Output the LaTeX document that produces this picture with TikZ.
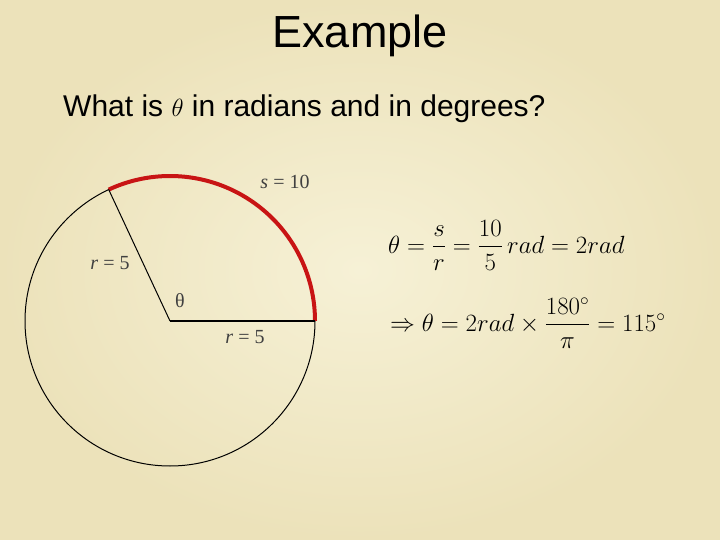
\documentclass[tikz,border=0pt]{standalone}
\usepackage{fontspec}
\setmainfont{Liberation Sans}
\newfontfamily\serif{Liberation Serif}
\usepackage{amsmath,amssymb}
\usetikzlibrary{calc}

\definecolor{paperin}{RGB}{246,241,214}
\definecolor{paperout}{RGB}{236,226,186}
\definecolor{arcred}{RGB}{200,20,20}

\begin{document}
\begin{tikzpicture}[x=1pt,y=1pt]
\tikzstyle{every node}+=[inner sep=0pt]
\tikzstyle{lbl}=[font=\serif\fontsize{20}{20}\selectfont, text=black!75]
\tikzstyle{eqn}=[anchor=base west, font=\fontsize{23}{23}\selectfont]
\useasboundingbox (0,0) rectangle (720,-540);
\shade [inner color=paperin, outer color=paperout] (0,0) rectangle (720,-540);
% title and question
\node (title) at (360,-36) {\fontsize{45}{45}\selectfont Example};
\node [anchor=base west] (question) at (63,-117) {\fontsize{30}{30}\selectfont What is $\theta$ in radians and in degrees?};
% circle
\coordinate (O) at (170,-321);
\coordinate (A) at ($(O)+(0:145)$);
\coordinate (B) at ($(O)+(115:145)$);
\draw [black, line width=1pt] (O) circle (145);
\draw [arcred, line width=4pt] (A) arc (0:115:145);
\draw [black, line width=1.8pt] (O) -- (A);
\draw [black, line width=1pt] (O) -- (B);
\node [lbl, anchor=base] (s) at (285,-189) {{\itshape s} = 10};
\node [lbl, anchor=base] (rleft) at (110,-269) {{\itshape r} = 5};
\node [lbl, anchor=base] (theta) at (180,-307) {θ};
\node [lbl, anchor=base] (rbot) at (245,-343) {{\itshape r} = 5};
% working
\node [eqn] (eqone) at (388,-253) {$\theta=\dfrac{s}{r}=\dfrac{10}{5}\,rad=2rad$};
\node [eqn] (eqtwo) at (390,-331) {$\Rightarrow\theta=2rad\times\dfrac{180^{\circ}}{\pi}=115^{\circ}$};
\end{tikzpicture}
\end{document}
